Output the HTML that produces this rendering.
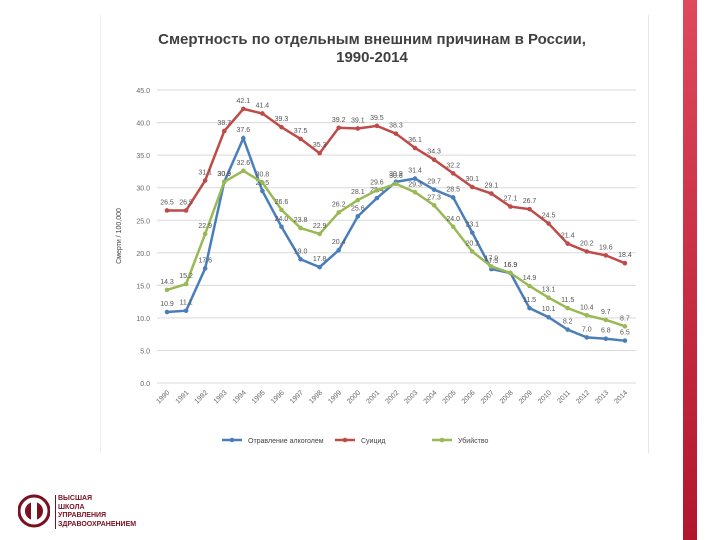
<!DOCTYPE html>
<html><head><meta charset="utf-8"><style>
body{margin:0;width:720px;height:540px;background:#fff;position:relative;overflow:hidden;font-family:"Liberation Sans",sans-serif}
#band{position:absolute;left:683px;top:0;width:14px;height:540px;background:linear-gradient(#e0485e,#b0162d)}
#logo{position:absolute;left:18px;top:494px}
#logotext{position:absolute;left:55px;top:495px;font-size:7px;line-height:8.6px;color:#7a1020;font-weight:bold;border-left:1px solid #7a1020;padding-left:2px}
#frame{position:absolute;left:100px;top:15px;width:547px;height:438px;border-left:1px solid #eee;border-right:1px solid #e4e4e4}
</style></head><body>
<div id="band"></div>
<div id="frame"></div>
<svg id="logo" width="32" height="34"><circle cx="16" cy="17" r="15" fill="none" stroke="#7a1020" stroke-width="3"/><circle cx="16" cy="17" r="9" fill="#7a1020"/><rect x="13" y="8" width="6" height="18" fill="#fff"/></svg>
<div id="logotext">ВЫСШАЯ<br>ШКОЛА<br>УПРАВЛЕНИЯ<br>ЗДРАВООХРАНЕНИЕМ</div>
<svg id="chart" width="720" height="540" style="position:absolute;left:0;top:0"></svg>
<script>
const years=[1990,1991,1992,1993,1994,1995,1996,1997,1998,1999,2000,2001,2002,2003,2004,2005,2006,2007,2008,2009,2010,2011,2012,2013,2014];
const alcohol=[10.9,11.1,17.6,30.9,37.6,29.5,24.0,19.0,17.8,20.4,25.6,28.4,30.9,31.4,29.7,28.5,23.1,17.5,16.9,11.5,10.1,8.2,7.0,6.8,6.5];
const suicide=[26.5,26.5,31.1,38.7,42.1,41.4,39.3,37.5,35.3,39.2,39.1,39.5,38.3,36.1,34.3,32.2,30.1,29.1,27.1,26.7,24.5,21.4,20.2,19.6,18.4];
const homicide=[14.3,15.2,22.9,30.9,32.6,30.8,26.6,23.8,22.9,26.2,28.1,29.6,30.6,29.3,27.3,24.0,20.2,17.9,16.9,14.9,13.1,11.5,10.4,9.7,8.7];
const yTicks=[0,5,10,15,20,25,30,35,40,45];
const seriesNames=["Отравление алкоголем","Суицид","Убийство"];
const colors=["#4a7ebb","#be4b48","#98b954"];
const svg=document.getElementById('chart');const NS='http://www.w3.org/2000/svg';
const x0=167,dx=19.08,yb=383,ky=6.51;
const X=i=>x0+i*dx, Y=v=>yb-v*ky;
function mk(t,a,txt){const e=document.createElementNS(NS,t);for(const k in a)e.setAttribute(k,a[k]);if(txt!==undefined)e.textContent=txt;svg.appendChild(e);return e;}
let t=mk('text',{x:372,y:44,'text-anchor':'middle','font-size':15,'font-weight':'bold',fill:'#404040'},'Смертность по отдельным внешним причинам в России,');


t=mk('text',{x:372,y:62,'text-anchor':'middle','font-size':15,'font-weight':'bold',fill:'#404040'},'1990-2014');


yTicks.forEach(v=>{
 const l=mk('line',{x1:157,x2:636,y1:Y(v),y2:Y(v),stroke:'#d9d9d9','stroke-width':1});
 
 
 const tx=mk('text',{x:150,y:Y(v)+3,'text-anchor':'end','font-size':7,fill:'#666'},v.toFixed(1));
 
 
});
t=mk('text',{x:0,y:0,transform:'translate(121,236) rotate(-90)','text-anchor':'middle','font-size':7,fill:'#444'},'Смерти / 100,000');


years.forEach((yr,i)=>{
 const tx=mk('text',{x:0,y:0,transform:`translate(${X(i)+3},${yb+10}) rotate(-45)`,'text-anchor':'end','font-size':7,fill:'#666'},yr);
 
 
});
[alcohol,suicide,homicide].forEach((s,k)=>{
 const p=mk('polyline',{points:s.map((v,i)=>X(i)+','+Y(v)).join(' '),fill:'none',stroke:colors[k],'stroke-width':2.5});
 
 
 s.forEach((v,i)=>{
  const c=mk('circle',{cx:X(i),cy:Y(v),r:2.3,fill:colors[k]});
  
  
  const lb=mk('text',{x:X(i),y:Y(v)-6,'text-anchor':'middle','font-size':7,fill:'#555'},v.toFixed(1));
  
  
 });
});
const lx=[222,335,432];
seriesNames.forEach((n,k)=>{
 const l=mk('line',{x1:lx[k],x2:lx[k]+20,y1:440,y2:440,stroke:colors[k],'stroke-width':2.5});
 
 
 const c=mk('circle',{cx:lx[k]+10,cy:440,r:2.3,fill:colors[k]});
 
 
 const tx=mk('text',{x:lx[k]+26,y:443,'font-size':7,fill:'#444'},n);
 
 
});
</script>
</body></html>
